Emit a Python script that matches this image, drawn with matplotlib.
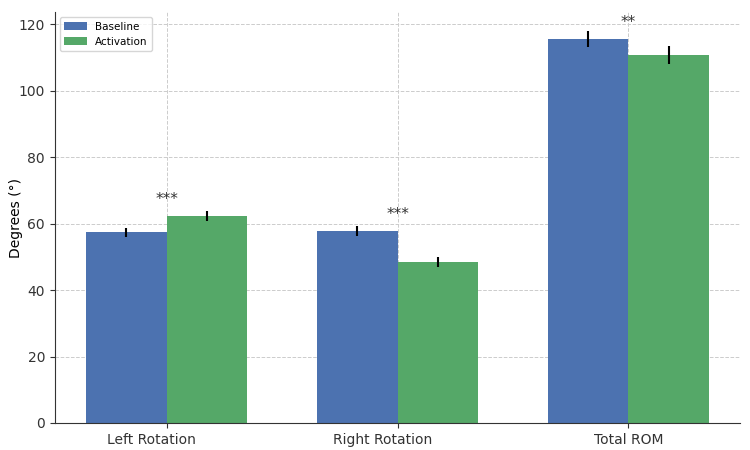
import matplotlib
matplotlib.use("Agg")
import matplotlib.pyplot as plt
import matplotlib.transforms as mtransforms
import numpy as np

categories = ["Left Rotation", "Right Rotation", "Total ROM"]
baseline = [57.4, 57.7, 115.5]
baseline_err = [1.4, 1.5, 2.5]
activation = [62.3, 48.4, 110.7]
activation_err = [1.4, 1.5, 2.6]
stars = ["***", "***", "**"]

fig = plt.figure(figsize=(7.5, 4.5), dpi=100)
ax = fig.add_axes([0.073, 0.06, 0.914, 0.913])
x = np.arange(len(categories))
w = 0.35
ax.bar(x - w/2, baseline, w, yerr=baseline_err, color="#4C72B0", label="Baseline",
       error_kw=dict(ecolor="black", elinewidth=1.5, capsize=0), zorder=2)
ax.bar(x + w/2, activation, w, yerr=activation_err, color="#55A868", label="Activation",
       error_kw=dict(ecolor="black", elinewidth=1.5, capsize=0), zorder=2)
for i in range(len(categories)):
    top = max(baseline[i], activation[i])
    ax.text(x[i], top + 2.7, stars[i], ha="center", va="bottom", fontsize=11, color="#333333")
ax.set_xticks(x)
ax.set_xticklabels(categories, fontsize=10)
shift = mtransforms.ScaledTranslation(-0.15, 0, fig.dpi_scale_trans)
for lbl in ax.get_xticklabels()[:2]:
    lbl.set_transform(lbl.get_transform() + shift)
ax.set_ylim(0, 123.6)
ax.set_ylabel("Degrees (°)", fontsize=10)
ax.yaxis.set_label_coords(-0.047, 0.5)
ax.grid(True, linestyle="--", color="#cccccc", linewidth=0.7, zorder=0)
ax.set_axisbelow(True)
for s in ["top", "right"]:
    ax.spines[s].set_visible(False)
ax.spines["left"].set_color("#333333")
ax.spines["bottom"].set_color("#333333")
ax.tick_params(axis="both", labelsize=10, colors="#333333")
ax.legend(loc="upper left", fontsize=7.5, frameon=True, handlelength=2.2)
fig.savefig("out.png", dpi=100)
